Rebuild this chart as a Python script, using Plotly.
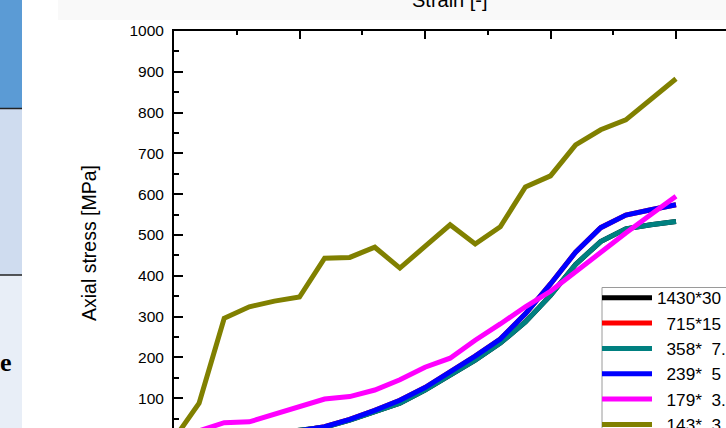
import plotly.graph_objects as go

# ---- data ----
strain = [i * 0.01 for i in range(21)]
labels = ["1430*30", "\u2007715*15", "\u2007358*\u20077.5", "\u2007239*\u20075", "\u2007179*\u20073.75", "\u2007143*\u20073"]
colors = ["#000000", "#ff0000", "#008080", "#0000ff", "#ff00ff", "#808000"]

s_1430 = [0, 2, 5, 9, 14, 20, 29, 46, 66, 88, 120, 155, 193, 235, 287, 352, 428, 484, 515, 525, 533]
s_715 = [0, 2, 5, 9, 14, 20, 30, 48, 70, 95, 126, 163, 203, 245, 307, 380, 458, 518, 549, 562, 574]
s_358 = [0, 2, 5, 9, 14, 20, 29, 46, 66, 88, 120, 155, 193, 235, 287, 352, 428, 484, 515, 525, 533]
s_239 = [0, 2, 5, 9, 14, 20, 30, 48, 70, 95, 126, 163, 203, 245, 307, 380, 458, 518, 549, 562, 574]
s_179 = [0, 20, 40, 42, 60, 80, 98, 104, 120, 145, 176, 198, 242, 282, 324, 362, 410, 456, 505, 550, 595]
s_143 = [0, 88, 296, 324, 338, 348, 443, 445, 470, 419, 472, 525, 478, 520, 618, 645, 721, 758, 782, 833, 883]
series = [s_1430, s_715, s_358, s_239, s_179, s_143]

# ---- geometry (pixels) ----
W, H = 726, 428
L, T = 174, 31
PW, PH = W - L, H - T


def px(x):
    return (x - L) / PW


def py(y):
    return (H - y) / PH


fig = go.Figure()
for name, col, ys in zip(labels, colors, series):
    fig.add_trace(go.Scatter(x=strain, y=ys, mode="lines", name=name,
                             line=dict(color=col, width=5)))

font = "Liberation Sans, Arial, sans-serif"

shapes = [
    # left strip (table fragment)
    dict(type="rect", xref="paper", yref="paper", x0=px(0), x1=px(22), y0=py(0), y1=py(108),
         fillcolor="#5b9bd5", line=dict(width=0), layer="above"),
    dict(type="rect", xref="paper", yref="paper", x0=px(0), x1=px(22), y0=py(108), y1=py(275),
         fillcolor="#cfdcef", line=dict(width=0), layer="above"),
    dict(type="rect", xref="paper", yref="paper", x0=px(0), x1=px(22), y0=py(275), y1=py(428),
         fillcolor="#e8eef7", line=dict(width=0), layer="above"),
    dict(type="line", xref="paper", yref="paper", x0=px(0), x1=px(22), y0=py(108.5), y1=py(108.5),
         line=dict(color="#222", width=1.5), layer="above"),
    dict(type="line", xref="paper", yref="paper", x0=px(0), x1=px(22), y0=py(275), y1=py(275),
         line=dict(color="#222", width=1.5), layer="above"),
    # light band on top
    dict(type="rect", xref="paper", yref="paper", x0=px(58), x1=px(726), y0=py(0), y1=py(20),
         fillcolor="#f9f9f9", line=dict(width=0), layer="below"),
    # legend box
    dict(type="rect", xref="paper", yref="paper", x0=px(602), x1=px(760), y0=py(287.5), y1=py(460),
         fillcolor="white", line=dict(color="#9a9a9a", width=1), layer="above"),
]

annotations = [
    dict(text="Axial stress [MPa]", xref="paper", yref="paper", x=px(89), y=py(243),
         textangle=-90, showarrow=False, font=dict(family=font, size=19.5, color="black"),
         xanchor="center", yanchor="middle"),
    dict(text="Strain [-]", xref="paper", yref="paper", x=px(450), y=py(13),
         showarrow=False, font=dict(family=font, size=20, color="black"),
         xanchor="center", yanchor="bottom"),
    dict(text="<b>e</b>", xref="paper", yref="paper", x=px(14), y=py(362),
         showarrow=False, font=dict(family="Liberation Serif, serif", size=26, color="black"),
         xanchor="right", yanchor="middle"),
]

fig.update_layout(
    width=W, height=H,
    margin=dict(l=L, r=0, t=T, b=0, pad=0, autoexpand=False),
    paper_bgcolor="white", plot_bgcolor="white",
    font=dict(family=font, color="black"),
    shapes=shapes, annotations=annotations,
    showlegend=True,
    legend=dict(x=px(597), y=py(280), xanchor="left", yanchor="top",
                bgcolor="rgba(255,255,255,0)", borderwidth=0,
                font=dict(family=font, size=17.2, color="black"),
                itemwidth=50, tracegroupgap=0),
)

fig.update_xaxes(range=[0, PW / 2510.0], side="top", showline=True, linecolor="black", linewidth=2,
                 ticks="inside", ticklen=8, tickwidth=1.5, tickcolor="black", dtick=0.05, tick0=0,
                 minor=dict(ticks="inside", ticklen=4, dtick=0.025, tickcolor="black", tickwidth=1.5),
                 showticklabels=False, showgrid=False, zeroline=False)
fig.update_yaxes(range=[1000 - PH / 0.408, 1000], showline=True, linecolor="black", linewidth=2,
                 ticks="inside", ticklen=9, tickwidth=1.5, tickcolor="black", dtick=100, tick0=0,
                 minor=dict(ticks="inside", ticklen=5, dtick=50, tickcolor="black", tickwidth=1.5),
                 tickfont=dict(family=font, size=15.5, color="black"), ticklabelstandoff=5,
                 showgrid=False, zeroline=False)

fig.write_html("out.html")
